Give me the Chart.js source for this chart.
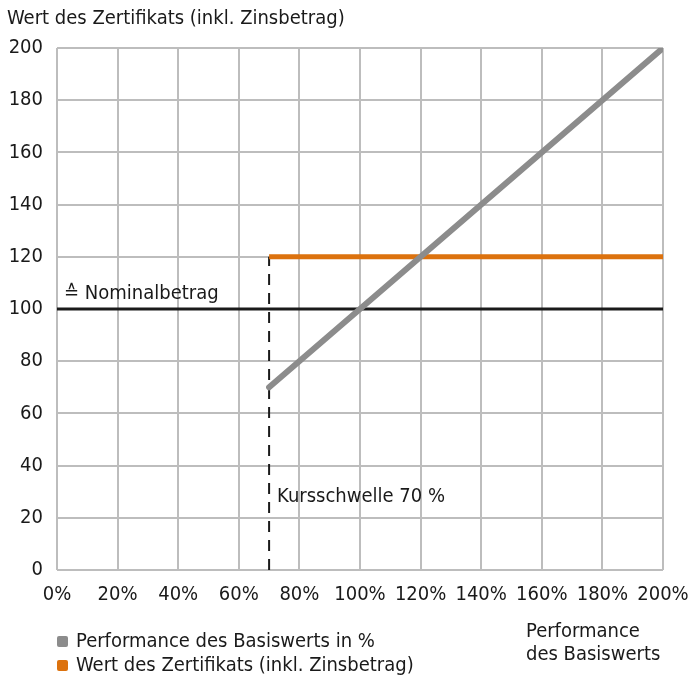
<!DOCTYPE html>
<html>
<head>
<meta charset="utf-8">
<script src="https://cdn.jsdelivr.net/npm/chart.js@4"></script>
<style>
  html, body { margin: 0; padding: 0; background: #fff; }
  body { width: 688px; height: 681px; position: relative; overflow: hidden;
         font-family: "Liberation Sans Narrow", "DejaVu Sans Condensed", sans-serif; color: #1a1a1a; }
  #wrap { position: absolute; left: 0; top: 0; width: 688px; height: 681px; }
  .txt { position: absolute; font-size: 20px; line-height: 23px; white-space: nowrap; }
  .sw { display: inline-block; width: 11px; height: 11px; border-radius: 2px; margin-right: 8px; vertical-align: 0px; }
</style>
</head>
<body>
<div id="wrap"><canvas id="chart" width="688" height="681"></canvas></div>
<div class="txt" style="left:7px; top:6px;">Wert des Zertifikats (inkl. Zinsbetrag)</div>
<div class="txt" style="left:57px; top:629px;"><span class="sw" style="background:#8c8c8c"></span>Performance des Basiswerts in %</div>
<div class="txt" style="left:57px; top:653px;"><span class="sw" style="background:#dc720e"></span>Wert des Zertifikats (inkl. Zinsbetrag)</div>
<div class="txt" style="left:526px; top:619px;">Performance<br>des Basiswerts</div>
<script>
// Werte
const xTicks = [0, 20, 40, 60, 80, 100, 120, 140, 160, 180, 200];
const yTicks = [0, 20, 40, 60, 80, 100, 120, 140, 160, 180, 200];

const performanceX = [70, 200];
const performanceY = [70, 200];

const zertifikatX = [70, 200];
const zertifikatY = [120, 120];

const nominalX = [0, 200];
const nominalY = [100, 100];

const schwelleX = [70, 70];
const schwelleY = [0, 120];

function pts(xs, ys) {
    return xs.map(function(x, i) { return { x: x, y: ys[i] }; });
}

const FONT = "'Liberation Sans Narrow', 'DejaVu Sans Condensed', sans-serif";

// Beschriftungen im Diagramm
const labelsPlugin = {
    id: 'labels',
    afterDatasetsDraw(chart) {
        const c = chart.ctx;
        const xs = chart.scales.x, ys = chart.scales.y;
        c.save();
        c.fillStyle = '#1a1a1a';
        c.font = '20px ' + FONT;
        c.textBaseline = 'middle';
        c.textAlign = 'left';
        c.fillText('\u2259 Nominalbetrag', xs.getPixelForValue(0) + 7, ys.getPixelForValue(100) - 15);
        c.fillText('Kursschwelle 70 %', xs.getPixelForValue(70) + 8, ys.getPixelForValue(28));
        c.restore();
    }
};

const ctx = document.getElementById('chart').getContext('2d');
new Chart(ctx, {
    type: 'line',
    data: {
        datasets: [{
            label: 'Performance des Basiswerts in %',
            data: pts(performanceX, performanceY),
            borderColor: '#8c8c8c',
            borderWidth: 6,
            borderCapStyle: 'round',
            pointRadius: 0,
            order: 1
        }, {
            label: 'Wert des Zertifikats (inkl. Zinsbetrag)',
            data: pts(zertifikatX, zertifikatY),
            borderColor: '#dc720e',
            borderWidth: 5,
            pointRadius: 0,
            order: 2
        }, {
            label: 'Nominalbetrag',
            data: pts(nominalX, nominalY),
            borderColor: '#1a1a1a',
            borderWidth: 3,
            pointRadius: 0,
            order: 3
        }, {
            label: 'Kursschwelle',
            data: pts(schwelleX, schwelleY),
            borderColor: '#1a1a1a',
            borderWidth: 2,
            borderDash: [11, 8],
            pointRadius: 0,
            order: 4
        }]
    },
    options: {
        responsive: false,
        animation: false,
        layout: { padding: { left: 0, top: 48, right: 25, bottom: 71 } },
        plugins: { legend: { display: false }, tooltip: { enabled: false } },
        scales: {
            x: {
                type: 'linear',
                min: 0,
                max: 200,
                afterBuildTicks: function(axis) { axis.ticks = xTicks.map(function(v) { return { value: v }; }); },
                afterFit: function(axis) { axis.height = 40; axis.paddingLeft = 0; axis.paddingRight = 0; },
                grid: { color: '#bdbdbd', lineWidth: 2, drawTicks: false },
                border: { display: false },
                ticks: {
                    color: '#1a1a1a',
                    font: { family: FONT, size: 20 },
                    padding: 13,
                    maxRotation: 0,
                    callback: function(v) { return v + '%'; }
                }
            },
            y: {
                min: 0,
                max: 200,
                afterBuildTicks: function(axis) { axis.ticks = yTicks.map(function(v) { return { value: v }; }); },
                afterFit: function(axis) { axis.width = 57; axis.paddingTop = 0; axis.paddingBottom = 0; },
                grid: { color: '#bdbdbd', lineWidth: 2, drawTicks: false },
                border: { display: false },
                ticks: {
                    color: '#1a1a1a',
                    font: { family: FONT, size: 20 },
                    padding: 14
                }
            }
        }
    },
    plugins: [labelsPlugin]
});
</script>
</body>
</html>
